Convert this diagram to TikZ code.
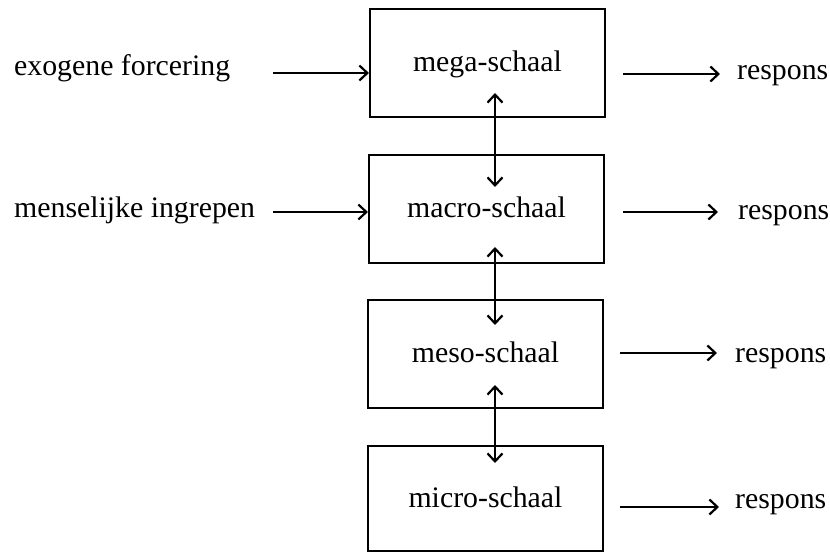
\documentclass[tikz,border=0pt]{standalone}
\usepackage{fontspec}
\setmainfont{Liberation Serif}
\usetikzlibrary{arrows.meta}
\newcommand{\myfs}{\fontsize{29.8}{36}\selectfont}
\begin{document}
\begin{tikzpicture}[x=1pt,y=-1pt,
  >={Straight Barb[length=8pt,width=15pt,line width=2.2pt]},
  box/.style={draw, line width=2.1pt, minimum width=235pt, minimum height=108pt,
    inner sep=0pt, anchor=center, font=\myfs, text height=20.3pt, text depth=3pt},
  lbl/.style={anchor=base west, inner sep=0pt, font=\myfs},
  arr/.style={line width=2.1pt, ->},
  darr/.style={line width=2.1pt, <->}]
\fill[white] (0,0) rectangle (830,553);
\useasboundingbox (0,0) rectangle (830,553);

% boxes
\node[box] (mega)  at (487.5,63)  {mega-schaal};
\node[box] (macro) at (486.5,209) {macro-schaal};
\node[box] (meso)  at (485.5,354) {meso-schaal};
\node[box, minimum height=105pt] (micro) at (485.5,498.5) {micro-schaal};

% left inputs
\node[lbl] (exo) at (14,76)  {exogene forcering};
\node[lbl] (men) at (14,218) {menselijke ingrepen};
\coordinate (exoS) at (273,73);
\coordinate (menS) at (273,212);
\draw[arr] (exoS) -- (mega.west |- exoS);
\draw[arr] (menS) -- (macro.west |- menS);

% vertical double arrows
\coordinate (v1a) at (495,93);
\coordinate (v1b) at (495,187);
\coordinate (v2a) at (495,247);
\coordinate (v2b) at (495,325);
\coordinate (v3a) at (495,385);
\coordinate (v3b) at (495,463);
\draw[darr] (v1a) -- (v1b);
\draw[darr] (v2a) -- (v2b);
\draw[darr] (v3a) -- (v3b);

% outputs
\coordinate (r1s) at (623,74);  \coordinate (r1e) at (720,74);
\coordinate (r2s) at (623,212); \coordinate (r2e) at (718,212);
\coordinate (r3s) at (620,353); \coordinate (r3e) at (717,353);
\coordinate (r4s) at (620,507); \coordinate (r4e) at (719,507);
\draw[arr] (r1s) -- (r1e);
\draw[arr] (r2s) -- (r2e);
\draw[arr] (r3s) -- (r3e);
\draw[arr] (r4s) -- (r4e);
\node[lbl] (resp1) at (737,80)  {respons};
\node[lbl] (resp2) at (738,220) {respons};
\node[lbl] (resp3) at (735,362) {respons};
\node[lbl] (resp4) at (735,508) {respons};
\end{tikzpicture}
\end{document}
